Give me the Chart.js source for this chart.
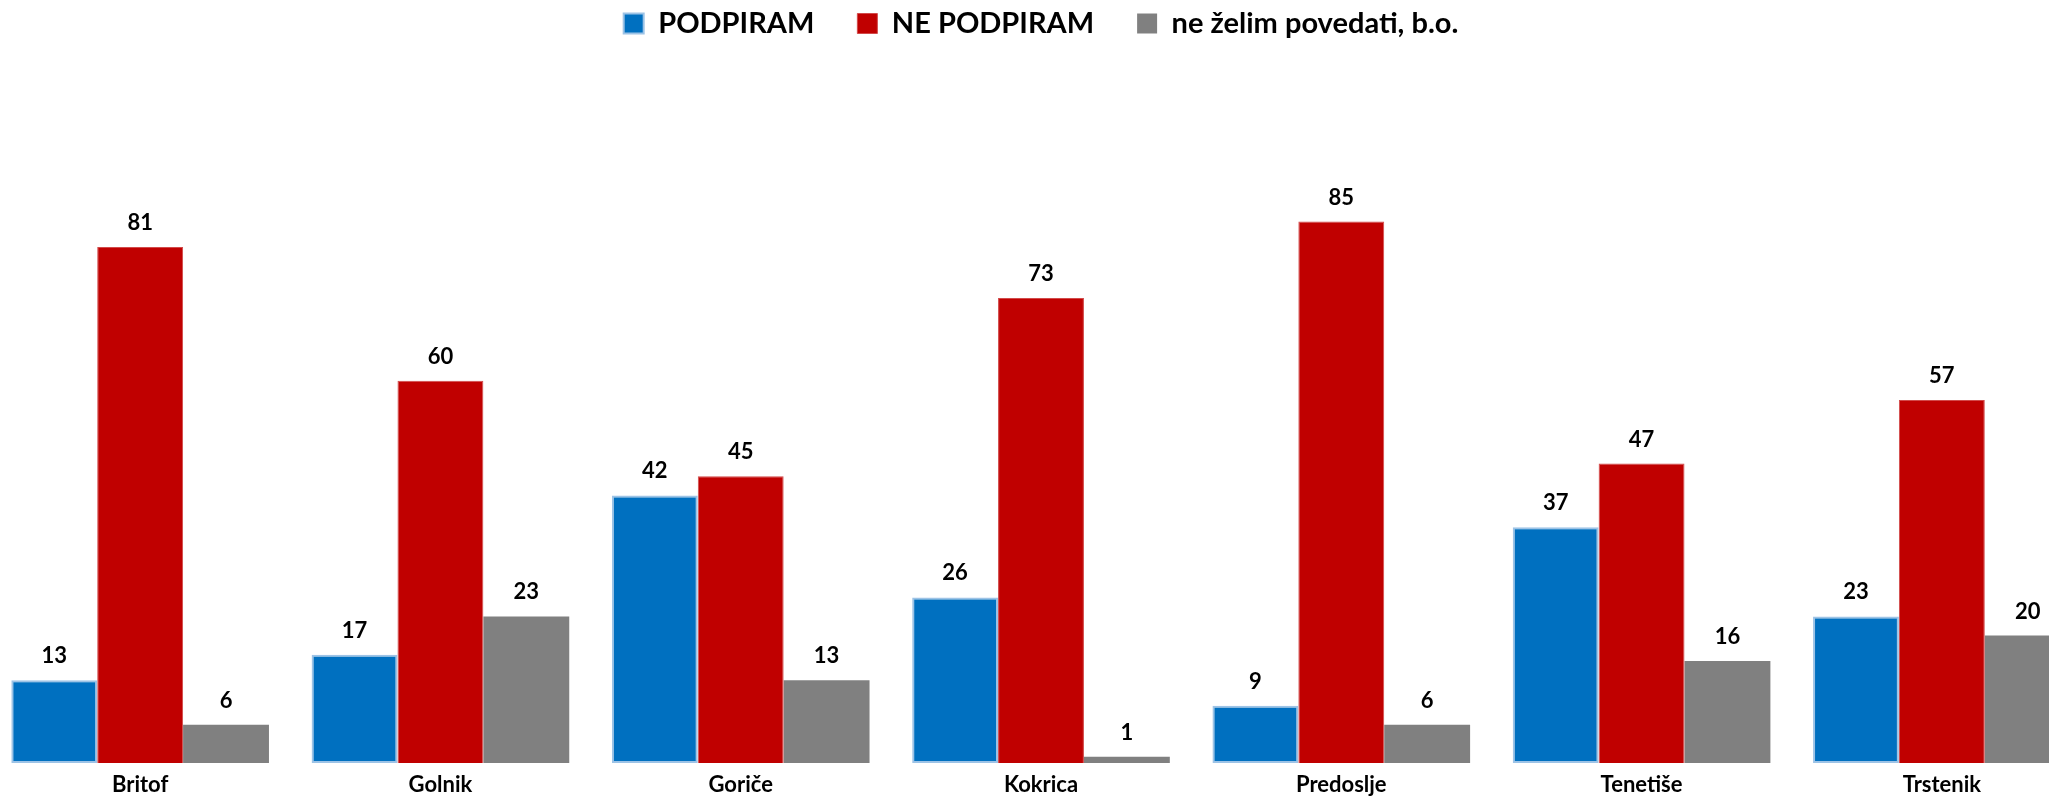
<!DOCTYPE html>
<html>
<head>
<meta charset="utf-8">
<script src="https://cdn.jsdelivr.net/npm/chart.js@4"></script>
<style>
    html, body { margin: 0; padding: 0; background: #fff; overflow: hidden; }
    #wrap { position: absolute; left: -10px; top: 0; width: 2102px; height: 796px; }
</style>
</head>
<body>
<div id="wrap"><canvas id="chart"></canvas></div>
<script>
// Categories (villages)
const villages = ['Britof', 'Golnik', 'Goriče', 'Kokrica', 'Predoslje', 'Tenetiše', 'Trstenik'];

// Series values (%)
const podpiram = [13, 17, 42, 26, 9, 37, 23];
const nePodpiram = [81, 60, 45, 73, 85, 47, 57];
const neZelim = [6, 23, 13, 1, 6, 16, 20];

const seriesNames = ['PODPIRAM', 'NE PODPIRAM', 'ne želim povedati, b.o.'];

// Colors
const colors = {
    blue: '#0070C0',
    blueEdge: '#9DC3E6',
    red: '#C00000',
    redEdge: '#D24A4A',
    gray: '#808080'
};

const fontFamily = 'Lato, "Open Sans", sans-serif';

// Make the legend take a fixed band at the top and sit close to the edge
const legendBand = {
    id: 'legendBand',
    beforeLayout(chart) {
        const legend = chart.legend;
        if (legend && !legend._bandPatched) {
            const fit = legend.fit;
            legend.fit = function () {
                fit.call(this);
                this.height = 126;
            };
            legend._bandPatched = true;
        }
    },
    afterLayout(chart) {
        if (chart.legend) {
            chart.legend.top = -34;
        }
    }
};

// Value labels above each bar
const valueLabels = {
    id: 'valueLabels',
    afterDatasetsDraw(chart) {
        const ctx = chart.ctx;
        ctx.save();
        ctx.font = 'bold 22px ' + fontFamily;
        ctx.fillStyle = '#000';
        ctx.textAlign = 'center';
        ctx.textBaseline = 'alphabetic';
        chart.data.datasets.forEach((ds, i) => {
            chart.getDatasetMeta(i).data.forEach((bar, j) => {
                ctx.fillText(ds.data[j], bar.x, bar.y - 17);
            });
        });
        ctx.restore();
    }
};

function drawChart() {
    const ctx = document.getElementById('chart').getContext('2d');
    new Chart(ctx, {
        type: 'bar',
        data: {
            labels: villages,
            datasets: [{
                label: seriesNames[0],
                data: podpiram,
                backgroundColor: colors.blue,
                borderColor: colors.blueEdge,
                borderWidth: 2,
                borderSkipped: false
            }, {
                label: seriesNames[1],
                data: nePodpiram,
                backgroundColor: colors.red,
                borderColor: colors.redEdge,
                borderWidth: 1,
                borderSkipped: 'bottom'
            }, {
                label: seriesNames[2],
                data: neZelim,
                backgroundColor: colors.gray,
                borderWidth: 0
            }]
        },
        options: {
            responsive: true,
            maintainAspectRatio: false,
            animation: false,
            layout: { padding: 0 },
            datasets: {
                bar: {
                    categoryPercentage: 0.858,
                    barPercentage: 1
                }
            },
            plugins: {
                legend: {
                    position: 'top',
                    align: 'center',
                    labels: {
                        boxWidth: 20,
                        boxHeight: 20,
                        padding: 43,
                        color: '#000',
                        font: { family: fontFamily, size: 29, weight: 'bold' }
                    }
                },
                tooltip: { enabled: false }
            },
            scales: {
                x: {
                    grid: { display: false },
                    border: { display: false },
                    ticks: {
                        color: '#000',
                        padding: 1,
                        font: { family: fontFamily, size: 22, weight: 'bold' }
                    },
                    afterFit(scale) {
                        scale.height = 33;
                    }
                },
                y: {
                    display: false,
                    min: 0,
                    max: 100
                }
            }
        },
        plugins: [legendBand, valueLabels]
    });
}

document.fonts.load('bold 28px Lato').then(drawChart, drawChart);
</script>
</body>
</html>
